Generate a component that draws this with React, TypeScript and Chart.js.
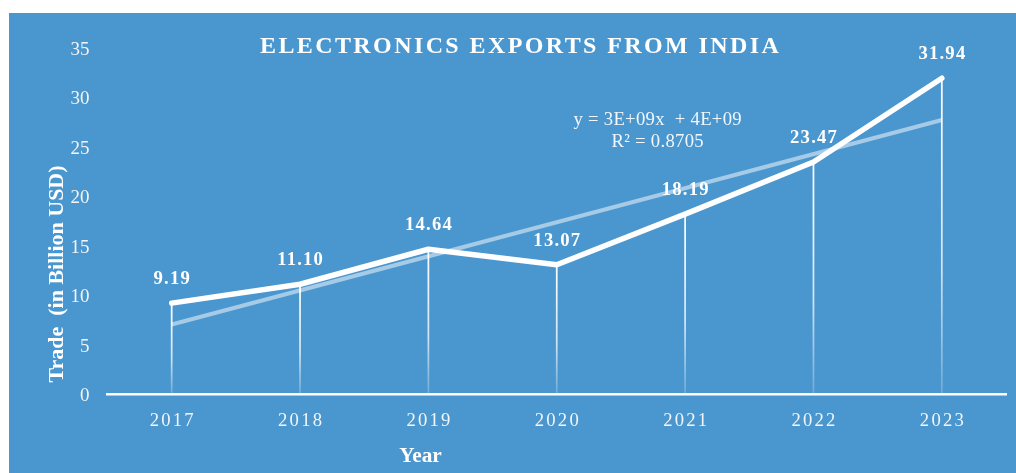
import React, { useEffect, useRef } from 'react';
import { Chart, registerables } from 'chart.js';

Chart.register(...registerables);

const TITLE = 'ELECTRONICS EXPORTS FROM INDIA';
const X_TITLE = 'Year';
const Y_TITLE = 'Trade  (in Billion USD)';
const years = ['2017', '2018', '2019', '2020', '2021', '2022', '2023'];
const exportValues = [9.19, 11.1, 14.64, 13.07, 18.19, 23.47, 31.94];
// Linear trendline: only its two end values (gaps spanned)
const trendValues = [7.03, null, null, null, null, null, 27.72];
const trendEquation = ['y = 3E+09x  + 4E+09', 'R² = 0.8705'];
const Y_MIN = 0;
const Y_MAX = 35;
const Y_STEP = 5;

const SERIF = '"Liberation Serif", "Times New Roman", serif';
const BG = '#4a96cf';

function drawSpaced(
  ctx: CanvasRenderingContext2D,
  text: string,
  cx: number,
  baseline: number,
  spacing: number
) {
  (ctx as any).letterSpacing = spacing + 'px';
  ctx.textAlign = 'left';
  ctx.textBaseline = 'alphabetic';
  const w = ctx.measureText(text).width - spacing;
  ctx.fillText(text, cx - w / 2, baseline);
  (ctx as any).letterSpacing = '0px';
}

const decorPlugin = {
  id: 'decor',
  beforeDatasetsDraw(chart: any) {
    const ctx: CanvasRenderingContext2D = chart.ctx;
    const meta = chart.getDatasetMeta(1);
    const bottom = chart.chartArea.bottom;
    meta.data.forEach((pt: any) => {
      const g = ctx.createLinearGradient(0, pt.y, 0, bottom);
      g.addColorStop(0, 'rgba(255,255,255,1)');
      g.addColorStop(0.6, 'rgba(255,255,255,0.75)');
      g.addColorStop(1, 'rgba(255,255,255,0.2)');
      ctx.save();
      ctx.strokeStyle = g;
      ctx.lineWidth = 1.75;
      ctx.beginPath();
      ctx.moveTo(pt.x, pt.y);
      ctx.lineTo(pt.x, bottom);
      ctx.stroke();
      ctx.restore();
    });
  },
  afterDraw(chart: any) {
    const ctx: CanvasRenderingContext2D = chart.ctx;
    const xScale = chart.scales.x;
    ctx.save();
    ctx.fillStyle = '#ffffff';

    // Title
    ctx.font = `bold 24px ${SERIF}`;
    drawSpaced(ctx, TITLE, 510.4, 40.3, 2.4);

    // X tick labels
    ctx.fillStyle = '#f4f4f4';
    ctx.font = `18.67px ${SERIF}`;
    years.forEach((y, i) => {
      drawSpaced(ctx, y, xScale.getPixelForValue(i), 413, 2.2);
    });

    // X title
    ctx.fillStyle = '#ffffff';
    ctx.font = `bold 21.3px ${SERIF}`;
    drawSpaced(ctx, X_TITLE, 411.5, 449, 0);

    // Y title
    ctx.save();
    ctx.translate(53.5, 261);
    ctx.rotate(-Math.PI / 2);
    ctx.font = `bold 22px ${SERIF}`;
    drawSpaced(ctx, Y_TITLE, 0, 0, 0);
    ctx.restore();

    // Data labels
    const meta = chart.getDatasetMeta(1);
    ctx.font = `bold 18.67px ${SERIF}`;
    meta.data.forEach((pt: any, i: number) => {
      drawSpaced(ctx, exportValues[i].toFixed(2), pt.x, pt.y - 19, 1.2);
    });

    // Trendline equation
    ctx.fillStyle = 'rgba(255,255,255,0.92)';
    ctx.font = `18.67px ${SERIF}`;
    drawSpaced(ctx, trendEquation[0], 648.5, 112, 0.3);
    drawSpaced(ctx, trendEquation[1], 648.5, 134, 0.3);

    ctx.restore();
  },
};

export default function App() {
  const ref = useRef<HTMLCanvasElement>(null);

  useEffect(() => {
    if (!ref.current) return;
    const chart = new Chart(ref.current, {
      type: 'line',
      data: {
        labels: years,
        datasets: [
          {
            label: 'Linear trend',
            data: trendValues as any,
            borderColor: 'rgba(255,255,255,0.5)',
            borderWidth: 4,
            pointRadius: 0,
            spanGaps: true,
            tension: 0,
          },
          {
            label: 'Electronics exports',
            data: exportValues,
            borderColor: '#ffffff',
            borderWidth: 5.5,
            borderCapStyle: 'round',
            borderJoinStyle: 'round',
            pointRadius: 0,
            tension: 0,
          },
        ],
      },
      options: {
        animation: false,
        responsive: false,
        maintainAspectRatio: false,
        layout: { padding: { top: 35, right: 10, left: 0, bottom: 0 } },
        plugins: {
          legend: { display: false },
          title: { display: false },
          tooltip: { enabled: false },
        },
        scales: {
          x: {
            type: 'category',
            offset: true,
            grid: { display: false, drawTicks: false },
            border: { display: true, color: '#ffffff', width: 2.5 },
            ticks: { display: false },
            afterFit: (scale: any) => {
              scale.height = 79;
            },
          },
          y: {
            min: Y_MIN,
            max: Y_MAX,
            grid: { display: false, drawTicks: false },
            border: { display: false },
            ticks: {
              stepSize: Y_STEP,
              padding: 18,
              labelOffset: 2,
              color: '#f4f4f4',
              font: { family: SERIF, size: 19 },
            },
            afterFit: (scale: any) => {
              scale.width = 98.5;
            },
          },
        },
      },
      plugins: [decorPlugin],
    });
    return () => chart.destroy();
  }, []);

  return (
    <div
      style={{
        position: 'absolute',
        left: 9,
        top: 13,
        width: 1007,
        height: 460,
        background: BG,
      }}
    >
      <canvas
        ref={ref}
        width={1007}
        height={460}
        style={{ display: 'block', width: 1007, height: 460 }}
      />
    </div>
  );
}
